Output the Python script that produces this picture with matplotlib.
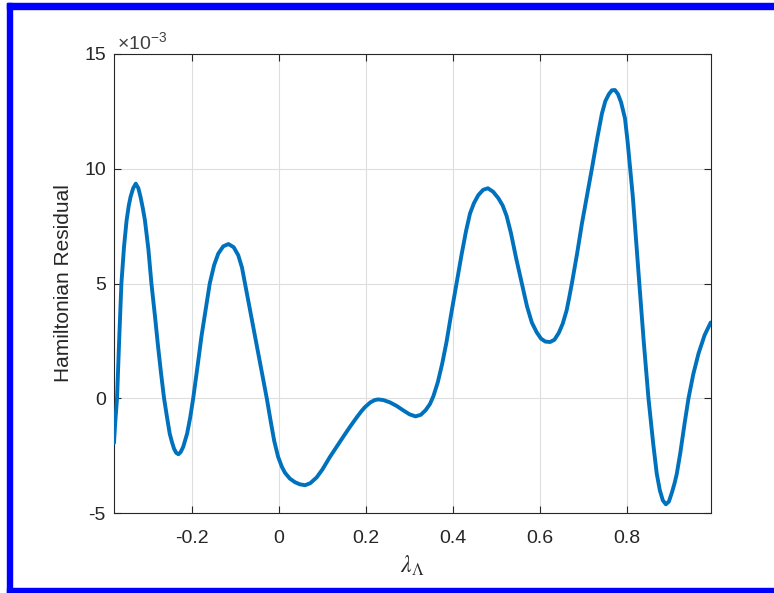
import matplotlib
matplotlib.use('Agg')
import matplotlib.pyplot as plt
import matplotlib.patches as mpatches
from matplotlib.ticker import FuncFormatter

# values (y in units of 1e-3)
lam = [-0.379, -0.376, -0.372, -0.367, -0.362, -0.356, -0.350, -0.345, -0.341, -0.335,
       -0.329, -0.323, -0.318, -0.313, -0.308, -0.300, -0.293, -0.285, -0.278, -0.271,
       -0.264, -0.257, -0.251, -0.246, -0.241, -0.236, -0.231, -0.226, -0.220, -0.215,
       -0.211, -0.204, -0.197, -0.187, -0.178, -0.168, -0.159, -0.149, -0.1395, -0.128,
       -0.116, -0.104, -0.0935, -0.085, -0.078, -0.068, -0.058, -0.048, -0.038, -0.028,
       -0.019, -0.011, -0.002, 0.007, 0.014, 0.025, 0.037, 0.048, 0.060, 0.072,
       0.0866, 0.100, 0.117, 0.133, 0.148, 0.163, 0.178, 0.190, 0.198, 0.210,
       0.220, 0.228, 0.240, 0.255, 0.270, 0.285, 0.300, 0.314, 0.326, 0.337,
       0.347, 0.355, 0.365, 0.375, 0.385, 0.396, 0.408, 0.420, 0.430, 0.439,
       0.448, 0.458, 0.469, 0.480, 0.492, 0.504, 0.514, 0.523, 0.533, 0.545,
       0.558, 0.570, 0.581, 0.592, 0.602, 0.612, 0.623, 0.633, 0.643, 0.652,
       0.661, 0.667, 0.673, 0.685, 0.696, 0.708, 0.719, 0.731, 0.742, 0.750,
       0.758, 0.765, 0.772, 0.779, 0.786, 0.795, 0.801, 0.807, 0.813, 0.820,
       0.828, 0.838, 0.849, 0.860, 0.868, 0.875, 0.882, 0.889, 0.896, 0.903,
       0.909, 0.914, 0.922, 0.932, 0.941, 0.952, 0.964, 0.978, 0.992]
resid_e3 = [-1.95, -1.0, 0.0, 2.6, 5.0, 6.6, 7.76, 8.4, 8.77, 9.15,
            9.35, 9.15, 8.77, 8.3, 7.76, 6.5, 5.0, 3.6, 2.3, 1.1,
            0.0, -0.85, -1.54, -1.9, -2.2, -2.38, -2.44, -2.35, -2.12, -1.8,
            -1.54, -0.85, 0.0, 1.4, 2.7, 3.9, 5.0, 5.8, 6.3, 6.62,
            6.72, 6.58, 6.23, 5.7, 5.0, 4.0, 3.0, 2.0, 1.0, 0.0,
            -1.0, -1.85, -2.55, -3.0, -3.25, -3.5, -3.66, -3.75, -3.79, -3.7,
            -3.45, -3.1, -2.56, -2.1, -1.67, -1.25, -0.85, -0.55, -0.38, -0.18,
            -0.08, -0.05, -0.08, -0.18, -0.33, -0.52, -0.70, -0.79, -0.72, -0.52,
            -0.25, 0.1, 0.7, 1.5, 2.45, 3.7, 5.0, 6.3, 7.3, 8.05,
            8.5, 8.85, 9.08, 9.15, 9.0, 8.72, 8.4, 7.95, 7.2, 6.1,
            5.0, 4.0, 3.3, 2.88, 2.6, 2.47, 2.45, 2.55, 2.85, 3.25,
            3.83, 4.4, 5.0, 6.3, 7.6, 8.85, 10.0, 11.3, 12.4, 12.95,
            13.25, 13.42, 13.43, 13.25, 12.9, 12.2, 11.2, 10.0, 8.8, 7.0,
            5.0, 2.5, 0.0, -2.0, -3.28, -4.0, -4.45, -4.62, -4.5, -4.1,
            -3.7, -3.3, -2.4, -1.1, 0.0, 1.05, 1.95, 2.75, 3.3]
resid = [v * 1e-3 for v in resid_e3]

xticks = [-0.2, 0, 0.2, 0.4, 0.6, 0.8]
yticks_e3 = [-5, 0, 5, 10, 15]

plt.rcParams['font.family'] = ['Liberation Sans', 'DejaVu Sans']
plt.rcParams['axes.unicode_minus'] = False
plt.rcParams['mathtext.fontset'] = 'custom'
plt.rcParams['mathtext.rm'] = 'Liberation Sans'
plt.rcParams['mathtext.it'] = 'Liberation Sans:italic'

dark = '#262626'
W, H = 774, 593
fig = plt.figure(figsize=(W / 100, H / 100), dpi=100)
ax = fig.add_axes([114 / W, 1 - 513 / H, (710.7 - 114) / W, (513 - 54) / H])

ax.plot(lam, resid, color='#0072BD', linewidth=2.8, zorder=3,
        solid_joinstyle='round', solid_capstyle='round')

ax.set_xlim(-0.379, 0.992)
ax.set_ylim(-5e-3, 15e-3)
ax.set_xticks(xticks)
ax.set_yticks([v * 1e-3 for v in yticks_e3])
ax.xaxis.set_major_formatter(FuncFormatter(lambda v, p: '%g' % round(v, 6)))
ax.yaxis.set_major_formatter(FuncFormatter(lambda v, p: '%g' % round(v * 1e3, 6)))

ax.grid(True, color='#dedede', linewidth=0.8, zorder=0)
ax.set_axisbelow(True)
for s in ax.spines.values():
    s.set_color(dark)
    s.set_linewidth(0.8)
ax.tick_params(axis='both', direction='in', length=5, width=0.8, colors=dark,
               labelsize=14, top=True, right=True)
ax.tick_params(axis='x', pad=12)
ax.tick_params(axis='y', pad=5.8)

ax.set_ylabel('Hamiltonian Residual', fontsize=15, color=dark)
ax.yaxis.set_label_coords(-0.068, 0.5)
ax.set_xlabel(r'$\lambda_\Lambda$', fontsize=17, color=dark, math_fontfamily='stix')
ax.xaxis.set_label_coords(0.5, -0.088)

ax.text(0.005, 1.0109, r'$\times10^{-3}$', transform=ax.transAxes, fontsize=14,
        color='#404040', ha='left', va='baseline')

# blue frame around the picture (no right edge in the reference)
blue = '#0000ff'
fig.add_artist(mpatches.Rectangle((7 / W, 0), 5 / W, 1 - 3 / H, transform=fig.transFigure,
                                  color=blue, zorder=10))
fig.add_artist(mpatches.Rectangle((7 / W, 1 - 9 / H), 1, 6 / H, transform=fig.transFigure,
                                  color=blue, zorder=10))
fig.add_artist(mpatches.Rectangle((7 / W, 0), 1, 5 / H, transform=fig.transFigure,
                                  color=blue, zorder=10))

fig.savefig('out.png', dpi=100)
